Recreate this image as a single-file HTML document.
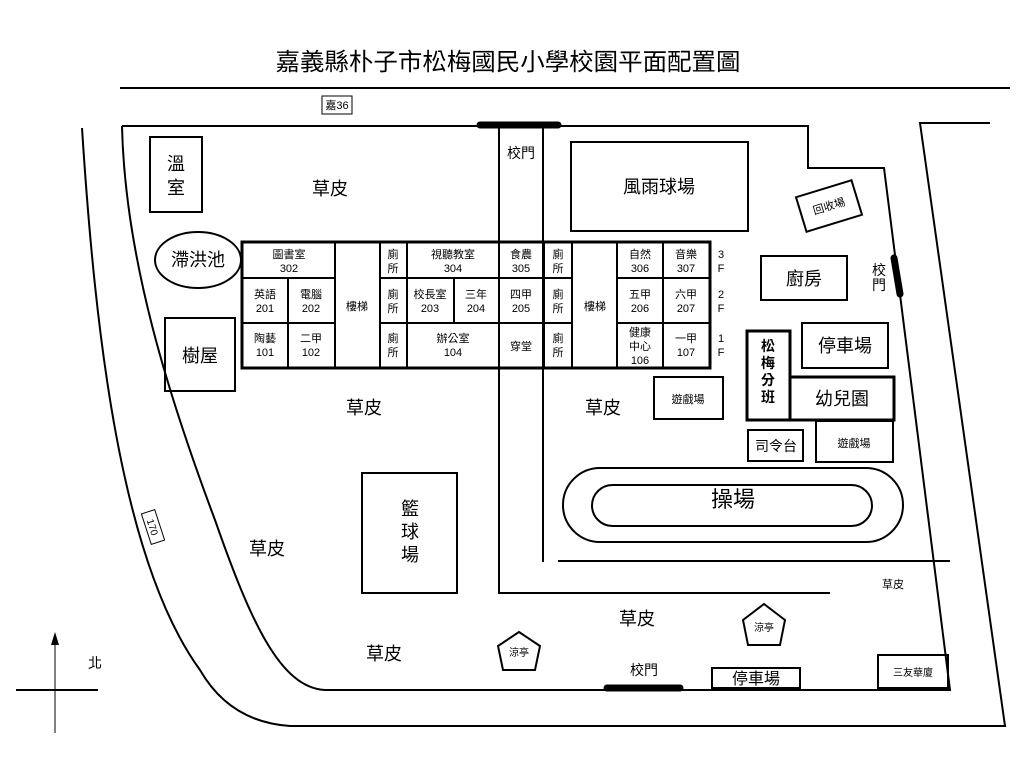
<!DOCTYPE html>
<html><head><meta charset="utf-8"><style>
html,body{margin:0;padding:0;background:#fff;width:1024px;height:768px;overflow:hidden}
svg{display:block}
text{font-family:"Liberation Sans","Noto Sans CJK TC",sans-serif;fill:#000}
</style></head><body>
<svg width="1024" height="768" viewBox="0 0 1024 768" xmlns="http://www.w3.org/2000/svg">
<text x="508" y="70" font-size="24" text-anchor="middle" textLength="465" lengthAdjust="spacingAndGlyphs">嘉義縣朴子市松梅國民小學校園平面配置圖</text>
<g fill="none" stroke="#000" stroke-width="2">
<line x1="120" y1="88" x2="1010" y2="88"/>
<path d="M82 128 C 95 330, 120 560, 200 670 Q 230 722 290 726 L 1005 726 L 920 123 L 990 123"/>
<path d="M122 126 L808 126 L808 168 L884 168 L950 690 L325 690 C 280 688, 250 620, 215 520 C 170 400, 125 260, 122 126"/>
<polyline points="499,126 499,593 830,593"/>
<polyline points="543,126 543,562"/>
<line x1="558" y1="561" x2="950" y2="561"/>
<rect x="563" y="468" width="340" height="74" rx="37"/>
<rect x="592" y="485" width="280" height="41" rx="20.5"/>
<rect x="362" y="473" width="95" height="120"/>
<rect x="150" y="137" width="52" height="75"/>
<ellipse cx="198" cy="260" rx="43" ry="28"/>
<rect x="165" y="318" width="70" height="73"/>
<rect x="571" y="142" width="177" height="89"/>
<rect x="800" y="188" width="58" height="36" transform="rotate(-17 829 206)"/>
<rect x="761" y="256" width="86" height="44"/>
<rect x="802" y="323" width="86" height="45"/>
<rect x="654" y="377" width="69" height="42"/>
<rect x="748" y="430" width="55" height="31"/>
<rect x="816" y="421" width="77" height="41"/>
<rect x="712" y="668" width="88" height="20"/>
<rect x="878" y="655" width="70" height="33"/>
<rect x="322" y="96" width="30" height="18" stroke-width="1"/>
</g>
<g fill="none" stroke="#000" stroke-width="3">
<rect x="747" y="331" width="43" height="89"/>
<rect x="790" y="377" width="104" height="43"/>
<rect x="242" y="242" width="468" height="126"/>
</g>
<g stroke="#000" stroke-width="2">
<line x1="242" y1="278" x2="335" y2="278"/><line x1="242" y1="323" x2="335" y2="323"/>
<line x1="380" y1="278" x2="572" y2="278"/><line x1="380" y1="323" x2="572" y2="323"/>
<line x1="617" y1="278" x2="710" y2="278"/><line x1="617" y1="323" x2="710" y2="323"/>
<line x1="288" y1="278" x2="288" y2="368"/>
<line x1="335" y1="242" x2="335" y2="368"/>
<line x1="380" y1="242" x2="380" y2="368"/>
<line x1="407" y1="242" x2="407" y2="368"/>
<line x1="454" y1="278" x2="454" y2="323"/>
<line x1="499" y1="242" x2="499" y2="368"/>
<line x1="544" y1="242" x2="544" y2="368"/>
<line x1="572" y1="242" x2="572" y2="368"/>
<line x1="617" y1="242" x2="617" y2="368"/>
<line x1="663" y1="242" x2="663" y2="368"/>
</g>
<g stroke="#000" stroke-linecap="round">
<line x1="480" y1="125" x2="558" y2="125" stroke-width="7"/>
<line x1="607" y1="688" x2="680" y2="688" stroke-width="7"/>
<line x1="894" y1="258" x2="900" y2="294" stroke-width="7"/>
</g>
<g fill="#fff" stroke="#000" stroke-width="2">
<polygon points="519,632 540,646 535,670 503,670 498,646"/>
<polygon points="764,604 785,620 780,645 748,645 743,620"/>
</g>
<g stroke="#000">
<line x1="55" y1="640" x2="55" y2="733" stroke-width="1"/>
<line x1="16" y1="690" x2="98" y2="690" stroke-width="2"/>
</g>
<polygon points="55,632 51,645 59,645" fill="#000"/>
<text x="88" y="668" font-size="14">北</text>
<g transform="rotate(-18 153 527)"><rect x="146" y="511" width="14" height="32" fill="#fff" stroke="#000"/>
<text x="153" y="527" font-size="10" text-anchor="middle" transform="rotate(90 153 527)" dy="4">170</text></g>
<g font-size="11" text-anchor="middle">
<text x="337" y="109">嘉36</text>
<text x="289" y="258">圖書室</text><text x="289" y="272">302</text>
<text x="265" y="298">英語</text><text x="265" y="312">201</text>
<text x="311" y="298">電腦</text><text x="311" y="312">202</text>
<text x="265" y="342">陶藝</text><text x="265" y="356">101</text>
<text x="311" y="342">二甲</text><text x="311" y="356">102</text>
<text x="357" y="310">樓梯</text>
<text x="393" y="258">廁</text><text x="393" y="272">所</text>
<text x="393" y="298">廁</text><text x="393" y="312">所</text>
<text x="393" y="342">廁</text><text x="393" y="356">所</text>
<text x="453" y="258">視聽教室</text><text x="453" y="272">304</text>
<text x="430" y="298">校長室</text><text x="430" y="312">203</text>
<text x="476" y="298">三年</text><text x="476" y="312">204</text>
<text x="453" y="342">辦公室</text><text x="453" y="356">104</text>
<text x="521" y="258">食農</text><text x="521" y="272">305</text>
<text x="521" y="298">四甲</text><text x="521" y="312">205</text>
<text x="521" y="350">穿堂</text>
<text x="558" y="258">廁</text><text x="558" y="272">所</text>
<text x="558" y="298">廁</text><text x="558" y="312">所</text>
<text x="558" y="342">廁</text><text x="558" y="356">所</text>
<text x="595" y="310">樓梯</text>
<text x="640" y="258">自然</text><text x="640" y="272">306</text>
<text x="686" y="258">音樂</text><text x="686" y="272">307</text>
<text x="640" y="298">五甲</text><text x="640" y="312">206</text>
<text x="686" y="298">六甲</text><text x="686" y="312">207</text>
<text x="640" y="336">健康</text><text x="640" y="350">中心</text><text x="640" y="364">106</text>
<text x="686" y="342">一甲</text><text x="686" y="356">107</text>
<text x="721" y="258">3</text><text x="721" y="272">F</text>
<text x="721" y="298">2</text><text x="721" y="312">F</text>
<text x="721" y="342">1</text><text x="721" y="356">F</text>
<text x="688" y="403">遊戲場</text>
<text x="854" y="447">遊戲場</text>
<text x="913" y="676" font-size="10">三友華廈</text>
<text x="893" y="588">草皮</text>
<text x="829" y="210" transform="rotate(-17 829 206)">回收場</text>
</g>
<g font-size="18" text-anchor="middle">
<text x="176" y="170">溫</text><text x="176" y="194">室</text>
<text x="198" y="266">滯洪池</text>
<text x="200" y="362">樹屋</text>
<text x="330" y="195">草皮</text>
<text x="364" y="414">草皮</text>
<text x="603" y="414">草皮</text>
<text x="267" y="555">草皮</text>
<text x="384" y="660">草皮</text>
<text x="637" y="625">草皮</text>
<text x="659" y="193">風雨球場</text>
<text x="804" y="285">廚房</text>
<text x="845" y="352">停車場</text>
<text x="842" y="405">幼兒園</text>
<text x="410" y="515">籃</text><text x="410" y="538">球</text><text x="410" y="561">場</text>
<text x="733" y="507" font-size="22">操場</text>
<text x="756" y="684" font-size="16">停車場</text>
</g>
<g font-size="14" text-anchor="middle">
<text x="521" y="158">校門</text>
<text x="644" y="675">校門</text>
<text x="879" y="275">校</text><text x="879" y="290">門</text>
<text x="764" y="631" font-size="10">涼亭</text>
<text x="519" y="656" font-size="10">涼亭</text>
<text x="776" y="451">司令台</text>
</g>
<g font-size="14" text-anchor="middle" font-weight="bold">
<text x="768" y="351">松</text><text x="768" y="368">梅</text><text x="768" y="385">分</text><text x="768" y="402">班</text>
</g>
</svg>
</body></html>
